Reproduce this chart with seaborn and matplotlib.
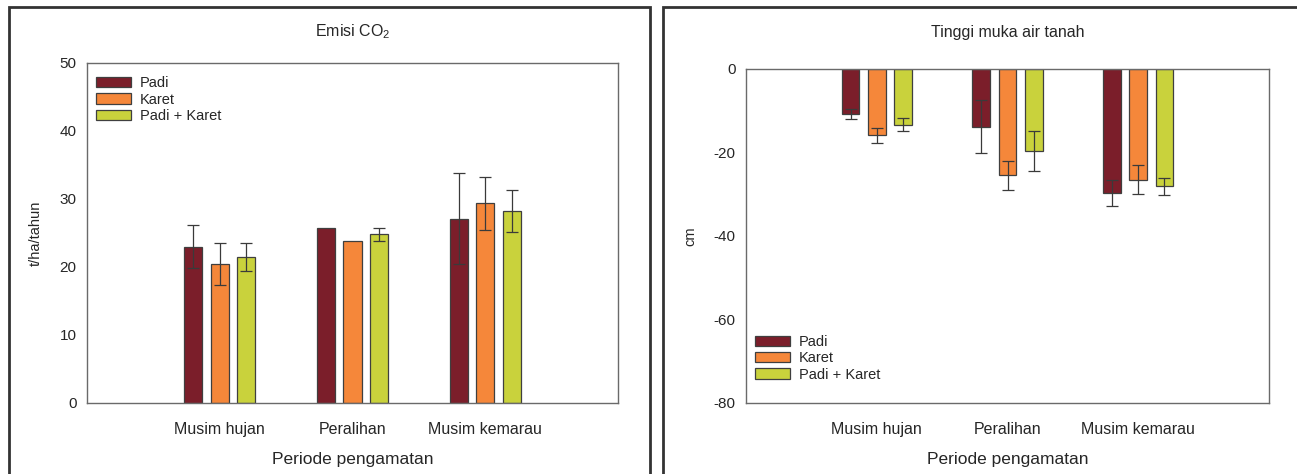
import numpy as np
import pandas as pd
import matplotlib
matplotlib.use("Agg")
import matplotlib.pyplot as plt
import seaborn as sns
from matplotlib.patches import Rectangle

# Data
periode = ["Musim hujan", "Peralihan", "Musim kemarau"]
perlakuan = ["Padi", "Karet", "Padi + Karet"]

# Emisi CO2 (t/ha/tahun), urutan: periode
emisi_padi = [23.0, 25.7, 27.1]
emisi_karet = [20.4, 23.8, 29.4]
emisi_pk = [21.5, 24.8, 28.2]
emisi_err_padi = [3.2, 0.0, 6.7]
emisi_err_karet = [3.1, 0.0, 3.9]
emisi_err_pk = [2.1, 1.0, 3.1]

# Tinggi muka air tanah (cm)
tma_padi = [-10.8, -13.8, -29.7]
tma_karet = [-15.9, -25.5, -26.5]
tma_pk = [-13.3, -19.6, -28.1]
tma_err_padi = [1.2, 6.4, 3.0]
tma_err_karet = [1.8, 3.4, 3.4]
tma_err_pk = [1.5, 4.8, 2.1]

warna = ["#7b1e2a", "#f5873a", "#c9d23c"]


def buat_df(padi, karet, pk):
    return pd.DataFrame({
        "periode": periode * 3,
        "perlakuan": [p for p in perlakuan for _ in periode],
        "nilai": list(padi) + list(karet) + list(pk),
    })


def plot_panel(ax, df, errs, title, ylabel, ylim, yticks, legend_loc, legend_anchor):
    sns.barplot(data=df, x="periode", y="nilai", hue="perlakuan",
                order=periode, hue_order=perlakuan, palette=warna,
                width=0.6, gap=0.32, errorbar=None, edgecolor="#3f3f3f",
                linewidth=0.9, saturation=1, ax=ax)
    # error bars manual dari nilai yang dibaca
    for cont, err in zip(ax.containers, errs):
        for bar, e in zip(cont, err):
            if e <= 0:
                continue
            xc = bar.get_x() + bar.get_width() / 2
            yv = bar.get_y() + bar.get_height()
            ax.errorbar(xc, yv, yerr=e, color="#3a3a3a", capsize=4,
                        elinewidth=0.9, capthick=0.9, zorder=5)
    ax.set_xlim(-1, 3)
    ax.set_ylim(*ylim)
    ax.set_yticks(yticks)
    # judul di posisi tetap di bingkai
    pos = ax.get_position()
    fig.text(pos.x0 + pos.width / 2, 1 - 32 / H, title, fontsize=11.5,
             ha="center", va="center")
    ax.set_xlabel("Periode pengamatan", fontsize=12.5, labelpad=11)
    ax.set_ylabel(ylabel, fontsize=10.5, labelpad=12)
    ax.tick_params(axis="y", labelsize=11, length=4, color="#555555")
    ax.tick_params(axis="x", labelsize=11.5, length=2.5, color="#555555", pad=11)
    for s in ax.spines.values():
        s.set_color("#6a6a6a")
        s.set_linewidth(1.0)
    ax.legend(loc=legend_loc, bbox_to_anchor=legend_anchor, frameon=False,
              fontsize=10.5, handlelength=2.35, handleheight=0.7,
              handletextpad=0.6, labelspacing=0.15, borderaxespad=0.25)


sns.set_theme(style="white")
plt.rcParams["font.family"] = ["Liberation Sans", "DejaVu Sans"]
plt.rcParams["mathtext.default"] = "regular"
plt.rcParams["axes.unicode_minus"] = False

fig = plt.figure(figsize=(12.97, 4.74), dpi=100)
W, H = 1297, 474

# bingkai panel
fig.patches.append(Rectangle((9 / W, -0.05), 641 / W, 1.05 - 7 / H, transform=fig.transFigure,
                             fill=False, edgecolor="#333333", linewidth=2))
fig.patches.append(Rectangle((663 / W, -0.05), 700 / W, 1.05 - 7 / H, transform=fig.transFigure,
                             fill=False, edgecolor="#333333", linewidth=2))

ax1 = fig.add_axes([87 / W, (H - 403) / H, 531 / W, 340 / H])
ax2 = fig.add_axes([746 / W, (H - 403) / H, 523 / W, 334 / H])

plot_panel(ax1, buat_df(emisi_padi, emisi_karet, emisi_pk),
           [emisi_err_padi, emisi_err_karet, emisi_err_pk],
           "Emisi CO$_2$", "t/ha/tahun", (0, 50), [0, 10, 20, 30, 40, 50],
           "upper left", (0, 1 - 4 / 340))
plot_panel(ax2, buat_df(tma_padi, tma_karet, tma_pk),
           [tma_err_padi, tma_err_karet, tma_err_pk],
           "Tinggi muka air tanah", "cm", (-80, 0), [-80, -60, -40, -20, 0],
           "lower left", (0, 12 / 334))

fig.savefig("out.png", dpi=100)
